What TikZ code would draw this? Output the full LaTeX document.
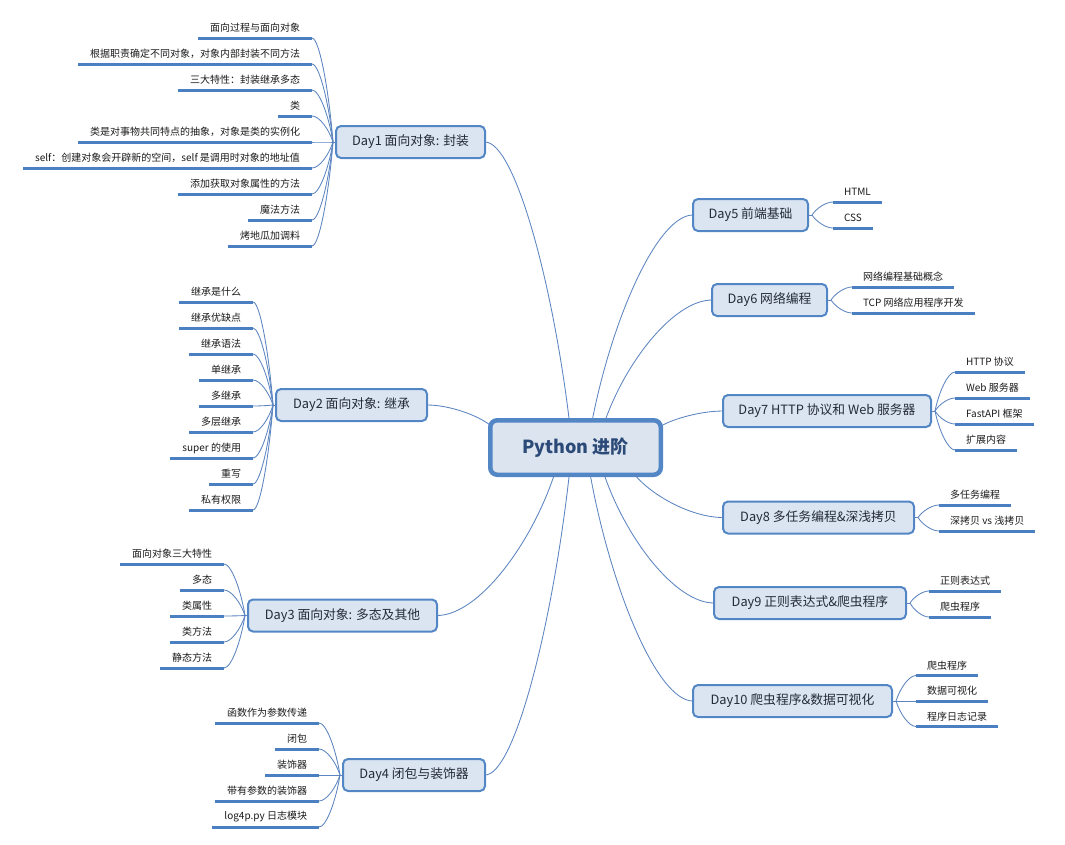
\documentclass[tikz,border=0pt]{standalone}
\usepackage{fontspec}
\setmainfont{Noto Sans CJK SC}
\usetikzlibrary{calc}

\definecolor{linkcol}{HTML}{5B84C0}
\definecolor{leafblue}{HTML}{4A7FC1}
\definecolor{boxline}{HTML}{5286C5}
\definecolor{boxfill}{HTML}{DBE5F1}
\definecolor{hubfill}{HTML}{DCE4EF}
\definecolor{hubtext}{HTML}{2C4A77}
\definecolor{daytext}{HTML}{222B36}
\definecolor{inktext}{HTML}{1A1A1A}

% curved branch: leaves the first point horizontally, bends towards the second
\newcommand\twig[2]{%
  \draw[link] let \p1=(#1), \p2=(#2) in
    (\p1) .. controls ({\x1+0.35*(\x2-\x1)},\y1)
              and ({\x2-0.2*(\x2-\x1)},{\y2+0.5*(\y1-\y2)}) .. (\p2);}

% leaves to the left of a topic: #1 topic, #2 right end, #3 first baseline, #4 texts
\newcommand\leavesleft[4]{%
  \coordinate (#1-hub) at ([xshift=-3pt]#1.west);
  \draw[link] (#1-hub) -- (#1.west);
  \foreach \t [count=\i] in {#4} {
    \node[leafL] (#1-\i) at (#2,{#3+26*(\i-1)}) {\t};
    \draw[leafline] (#1-\i.south west) -- (#1-\i.south east);
    \twig{#1-\i.south east}{#1-hub}
  }}

% leaves to the right of a topic: #1 topic, #2 left end, #3 first baseline, #4 step, #5 texts
\newcommand\leavesright[5]{%
  \coordinate (#1-hub) at ([xshift=4pt]#1.east);
  \draw[link] (#1-hub) -- (#1.east);
  \foreach \t [count=\i] in {#5} {
    \node[leafR] (#1-\i) at (#2,{#3+#4*(\i-1)}) {\t};
    \draw[leafline] (#1-\i.south west) -- (#1-\i.south east);
    \twig{#1-\i.south west}{#1-hub}
  }}

\begin{document}
\begin{tikzpicture}[x=1pt,y=-1pt,
  link/.style={draw=linkcol,line width=0.85pt},
  leafline/.style={draw=leafblue,line width=3pt},
  leafbase/.style={inner xsep=12pt,inner ysep=0pt,outer sep=0pt,minimum height=20pt,
    font=\fontsize{10}{12}\selectfont,text=inktext},
  leafL/.style={leafbase,anchor=south east},
  leafR/.style={leafbase,anchor=south west,inner xsep=11pt},
  daybox/.style={draw=boxline,fill=boxfill,line width=2pt,rounded corners=5pt,
    minimum height=32pt,inner sep=0pt,outer sep=0pt,
    font=\fontsize{12.8}{14}\selectfont,text=daytext},
  hubbox/.style={draw=boxline,fill=hubfill,line width=4.5pt,rounded corners=7pt,
    minimum width=170.5pt,minimum height=54.5pt,inner sep=0pt,outer sep=0pt,
    font=\fontsize{18}{20}\selectfont\bfseries,text=hubtext}]

\useasboundingbox (0,0) rectangle (1065,844);

% central topic
\node[hubbox] (hub) at (575.5,447.5) {Python 进阶};

% main topics
\node[daybox,minimum width=149pt] (d1) at (410.5,142) {Day1 面向对象: 封装};
\node[daybox,minimum width=151pt] (d2) at (351.5,405) {Day2 面向对象: 继承};
\node[daybox,minimum width=189pt] (d3) at (342.5,615.5) {Day3 面向对象: 多态及其他};
\node[daybox,minimum width=142pt] (d4) at (414,775) {Day4 闭包与装饰器};
\node[daybox,minimum width=115pt] (d5) at (750.5,215) {Day5 前端基础};
\node[daybox,minimum width=115pt] (d6) at (769.5,300) {Day6 网络编程};
\node[daybox,minimum width=208pt] (d7) at (827,411) {Day7 HTTP 协议和 Web 服务器};
\node[daybox,minimum width=191pt] (d8) at (818.5,517.5) {Day8 多任务编程\&深浅拷贝};
\node[daybox,minimum width=192pt] (d9) at (810,603) {Day9 正则表达式\&爬虫程序};
\node[daybox,minimum width=199pt] (d10) at (792.5,701) {Day10 爬虫程序\&数据可视化};

% branches from the central topic
\twig{d1.east}{[xshift=79pt]hub.north west}
\twig{d5.west}{[xshift=102pt]hub.north west}
\twig{d6.west}{[xshift=115pt]hub.north west}
\twig{d2.east}{[yshift=-5pt]hub.north west}
\twig{d7.west}{[yshift=-6pt]hub.north east}
\twig{d8.west}{[xshift=-26pt]hub.south east}
\twig{d3.east}{[xshift=64pt]hub.south west}
\twig{d4.east}{[xshift=79pt]hub.south west}
\twig{d10.west}{[xshift=100pt]hub.south west}
\twig{d9.west}{[xshift=114pt]hub.south west}

% subtopics
\leavesleft{d1}{312}{38}{{面向过程与面向对象},{根据职责确定不同对象，对象内部封装不同方法},
  {三大特性：封装继承多态},{类},{类是对事物共同特点的抽象，对象是类的实例化},
  {self：创建对象会开辟新的空间，self 是调用时对象的地址值},{添加获取对象属性的方法},
  {魔法方法},{烤地瓜加调料}}
\leavesleft{d2}{253}{302}{{继承是什么},{继承优缺点},{继承语法},{单继承},{多继承},
  {多层继承},{super 的使用},{重写},{私有权限}}
\leavesleft{d3}{224}{564}{{面向对象三大特性},{多态},{类属性},{类方法},{静态方法}}
\leavesleft{d4}{319}{723}{{函数作为参数传递},{闭包},{装饰器},{带有参数的装饰器},
  {log4p.py 日志模块}}

\leavesright{d5}{833}{202}{26}{{HTML},{CSS}}
\leavesright{d6}{852}{287}{26}{{网络编程基础概念},{TCP 网络应用程序开发}}
\leavesright{d7}{955}{372}{26}{{HTTP 协议},{Web 服务器},{FastAPI 框架},{扩展内容}}
\leavesright{d8}{939}{505}{26}{{多任务编程},{深拷贝 vs 浅拷贝}}
\leavesright{d9}{929}{591}{26}{{正则表达式},{爬虫程序}}
\leavesright{d10}{916}{675.5}{25.5}{{爬虫程序},{数据可视化},{程序日志记录}}

\end{tikzpicture}
\end{document}
